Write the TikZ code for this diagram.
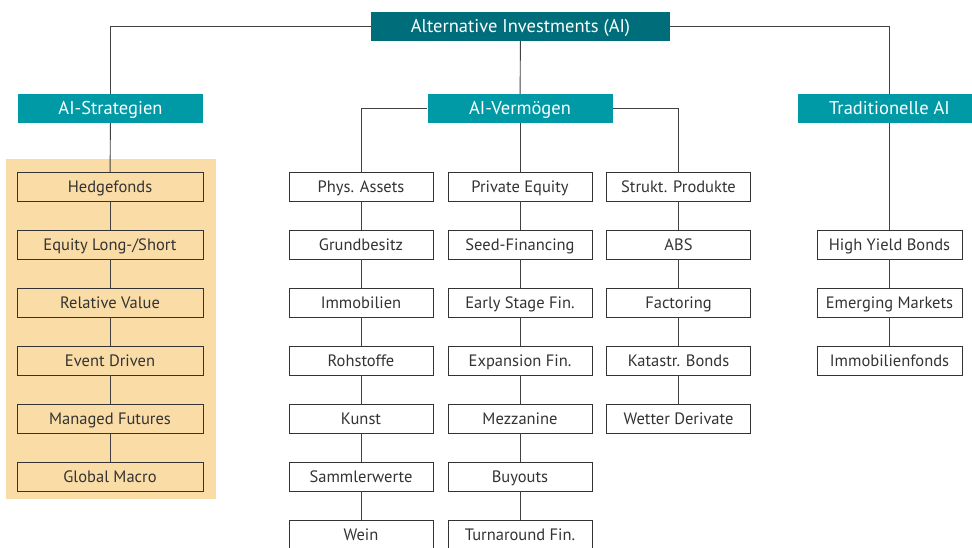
\documentclass[tikz,border=0pt]{standalone}
\usepackage{fontspec}
\setmainfont{PT Sans}
\usetikzlibrary{positioning}
\definecolor{aidark}{HTML}{006E7A}
\definecolor{aiteal}{HTML}{009AA6}
\definecolor{aiorange}{HTML}{FADCA7}

\begin{document}
\begin{tikzpicture}[x=1pt,y=-1pt,
  head/.style={fill=aiteal,text=white,minimum width=185pt,minimum height=29pt,inner sep=0pt,text height=13.5pt,text depth=2.5pt,font=\fontsize{18.5}{20}\selectfont},
  item/.style={draw=black!80,minimum width=144pt,minimum height=29pt,inner sep=0pt,text height=13.5pt,text depth=2.5pt,text=black!80,font=\fontsize{16.5}{18}\selectfont},
  link/.style={draw=black!75,line width=0.9pt}]
\useasboundingbox (0,0) rectangle (972,547);
\fill[aiorange] (6,159) rectangle (216,499);

\node[head,fill=aidark,minimum width=299pt] (ai) at (520.5,26.5) {Alternative Investments (AI)};
\node[head] (strat) at (110.5,108.5) {AI-Strategien};
\node[head] (verm) at (520,108.5) {AI-Vermögen};
\node[head,minimum width=183pt] (trad) at (889.5,108.5) {Traditionelle AI};

% columns
\foreach \t [count=\i] in {Hedgefonds,Equity Long-/Short,Relative Value,Event Driven,Managed Futures,Global Macro}
  \node[item,minimum width=186pt] (h\i) at (110,128.5+58*\i) {\t};
\foreach \t [count=\i] in {Phys. Assets,Grundbesitz,Immobilien,Rohstoffe,Kunst,Sammlerwerte,Wein}
  \node[item] (p\i) at (361,128.5+58*\i) {\t};
\foreach \t [count=\i] in {Private Equity,Seed-Financing,Early Stage Fin.,Expansion Fin.,Mezzanine,Buyouts,Turnaround Fin.}
  \node[item] (e\i) at (520,128.5+58*\i) {\t};
\foreach \t [count=\i] in {Strukt. Produkte,ABS,Factoring,Katastr. Bonds,Wetter Derivate}
  \node[item] (s\i) at (678.5,128.5+58*\i) {\t};
\foreach \t [count=\i] in {High Yield Bonds,Emerging Markets,Immobilienfonds}
  \node[item,minimum width=145pt] (t\i) at (889.5,186.5+58*\i) {\t};

\draw[link] (ai.west) -| (strat.north);
\draw[link] (ai.east) -| (trad.north);
\draw[link] (ai) -- (verm);
\draw[link] (verm.west) -| (p1.north);
\draw[link] (verm.east) -| (s1.north);
\draw[link] (verm) -- (e1);
\draw[link] (strat) -- (h1);
\draw[link] (trad) -- (t1);
\foreach \n/\k in {h/6,p/7,e/7,s/5,t/3}
  \foreach \i in {2,...,\k} {
    \pgfmathtruncatemacro\j{\i-1}
    \draw[link] (\n\j) -- (\n\i);
  }
\end{tikzpicture}
\end{document}
